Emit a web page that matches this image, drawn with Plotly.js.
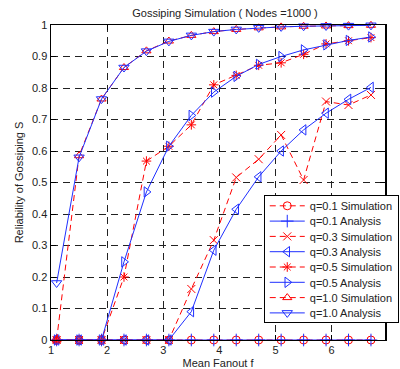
<!DOCTYPE html>
<html><head><meta charset="utf-8">
<script src="https://cdn.plot.ly/plotly-3.0.1.min.js"></script>
<style>html,body{margin:0;padding:0;background:#fff}#chart{width:400px;height:369px}</style>
</head><body><div id="chart"></div>
<script>
const fanout = [1.1,1.5,1.9,2.3,2.7,3.1,3.5,3.9,4.3,4.7,5.1,5.5,5.9,6.3,6.7];
const sim01 = [0,0,0,0,0,0,0,0,0,0,0,0,0,0,0];
const ana01 = [0,0,0,0,0,0,0,0,0,0,0,0,0,0,0];
const sim03 = [0,0,0,0,0,0,0.162,0.317,0.516,0.574,0.651,0.508,0.757,0.746,0.778];
const ana03 = [0,0,0,0,0,0,0.09,0.285,0.415,0.518,0.60,0.667,0.72,0.764,0.802];
const sim05 = [0,0,0,0.2,0.568,0.615,0.683,0.81,0.84,0.872,0.88,0.907,0.94,0.95,0.96];
const ana05 = [0,0,0,0.248,0.47,0.615,0.713,0.787,0.837,0.875,0.9,0.921,0.937,0.951,0.962];
const sim10 = [0,0.585,0.765,0.865,0.918,0.949,0.967,0.979,0.986,0.991,0.994,0.996,0.997,0.998,0.999];
const ana10 = [0.181,0.58,0.765,0.865,0.917,0.948,0.967,0.979,0.986,0.991,0.994,0.996,0.997,0.998,0.999];
const names = ['q=0.1 Simulation','q=0.1 Analysis','q=0.3 Simulation','q=0.3 Analysis','q=0.5 Simulation','q=0.5 Analysis','q=1.0 Simulation','q=1.0 Analysis'];
const xTicks = [1,2,3,4,5,6];
const yTicks = [0,0.1,0.2,0.3,0.4,0.5,0.6,0.7,0.8,0.9,1];
const yTickText = ['0','0.1','0.2','0.3','0.4','0.5','0.6','0.7','0.8','0.9','1'];

const RED = '#ff0000', BLUE = '#1f2fff';
function sim(y, name, sym){
  return {x: fanout, y: y, name: name, type:'scatter', mode:'lines+markers', cliponaxis:false,
    line:{color:RED, width:1, dash:'6px,4px'},
    marker:{symbol:sym, size:8, color:RED, line:{color:RED, width:1}}};
}
function ana(y, name, sym){
  return {x: fanout, y: y, name: name, type:'scatter', mode:'lines+markers', cliponaxis:false,
    line:{color:BLUE, width:1},
    marker:{symbol:sym, size:9, color:BLUE, line:{color:BLUE, width:1}}};
}
const data = [
  sim(sim01, names[0], 'circle-open'),
  ana(ana01, names[1], 'cross-thin-open'),
  sim(sim03, names[2], 'x-thin-open'),
  ana(ana03, names[3], 'triangle-left-open'),
  sim(sim05, names[4], 'asterisk-open'),
  ana(ana05, names[5], 'triangle-right-open'),
  sim(sim10, names[6], 'triangle-up-open'),
  ana(ana10, names[7], 'triangle-down-open')
];
const font = {family:'Liberation Sans, Arial, sans-serif', size:11, color:'#222'};
const layout = {
  width:400, height:369,
  margin:{l:51, r:1, t:25, b:29},
  paper_bgcolor:'#fff', plot_bgcolor:'#fff',
  font: font,
  showlegend:true,
  title:{text:'Gossiping Simulation ( Nodes =1000 )', font:{family:font.family, size:11, color:'#222'}, x:0.5625, xanchor:'center', y:0.965, yanchor:'middle'},
  xaxis:{range:[1,6.95], tickvals:xTicks, ticktext:xTicks.map(String), ticks:'inside', ticklen:5, tickcolor:'#000',
    showline:true, linecolor:'#000', linewidth:1, mirror:'allticks', zeroline:false,
    showgrid:true, gridcolor:'#222', griddash:'7px,5px', gridwidth:1,
    title:{text:'Mean Fanout f', font:{family:font.family, size:11, color:'#222'}, standoff:4}},
  yaxis:{range:[0,1], tickvals:yTicks, ticktext:yTickText, ticks:'inside', ticklen:5, tickcolor:'#000',
    showline:true, linecolor:'#000', linewidth:1.5, mirror:'allticks', zeroline:false,
    showgrid:true, gridcolor:'#222', griddash:'7px,5px', gridwidth:1,
    title:{text:'Reliability of Gossiping S', font:{family:font.family, size:11, color:'#222'}, standoff:6}},
  legend:{x:0.637, y:0.460, xanchor:'left', yanchor:'top', bgcolor:'#fff', bordercolor:'#000', borderwidth:1,
    font:{family:font.family, size:11, color:'#222'}, tracegroupgap:0, itemwidth:35}
};
Plotly.newPlot('chart', data, layout, {staticPlot:true, displayModeBar:false}).then(function(gd){
  // compact legend rows to the reference spacing
  const step = 15.3, firstY = 10.7, total = 127;
  const items = gd.querySelectorAll('.legend .traces');
  items.forEach(function(it, i){
    const m = /translate\(([^,]+),/.exec(it.getAttribute('transform') || '');
    const tx = m ? parseFloat(m[1]) : 1;
    it.setAttribute('transform', 'translate(' + tx + ',' + (firstY + i*step) + ')');
  });
  const bg = gd.querySelector('.legend .bg');
  if (bg) bg.setAttribute('height', total);
  document.querySelectorAll('clipPath[id^="legend"] rect').forEach(function(r){ r.setAttribute('height', total); });
});
</script></body></html>
